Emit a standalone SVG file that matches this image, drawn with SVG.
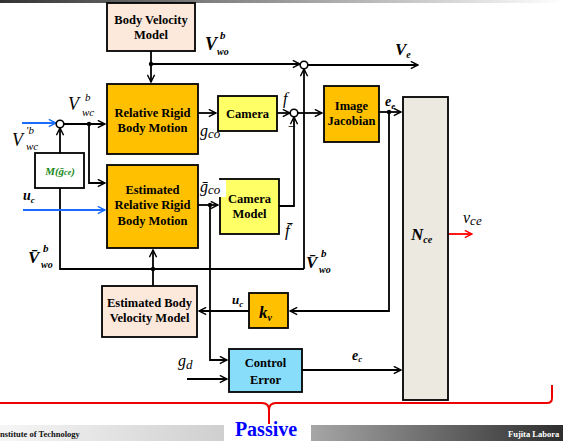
<svg xmlns="http://www.w3.org/2000/svg" width="563" height="442" viewBox="0 0 563 442">
<defs>
<linearGradient id="gTop" x1="0" y1="0" x2="1" y2="0"><stop offset="0" stop-color="#333"/><stop offset="1" stop-color="#fff"/></linearGradient>
<linearGradient id="gL" x1="0" y1="0" x2="1" y2="0"><stop offset="0" stop-color="#f6f6f6"/><stop offset="1" stop-color="#cfcfcf"/></linearGradient>
<linearGradient id="gR" x1="0" y1="0" x2="1" y2="0"><stop offset="0" stop-color="#a6a6a6"/><stop offset="1" stop-color="#2e2e2e"/></linearGradient>
<marker id="a" viewBox="0 0 10 10" refX="9" refY="5" markerWidth="9" markerHeight="9" orient="auto" markerUnits="userSpaceOnUse"><path d="M1,1 L9,5 L1,9" fill="none" stroke="#000" stroke-width="1.6"/></marker>
<marker id="ab" viewBox="0 0 10 10" refX="9" refY="5" markerWidth="9" markerHeight="9" orient="auto" markerUnits="userSpaceOnUse"><path d="M1,1 L9,5 L1,9" fill="none" stroke="#1a6cff" stroke-width="1.6"/></marker>
<marker id="ar" viewBox="0 0 10 10" refX="9" refY="5" markerWidth="9" markerHeight="9" orient="auto" markerUnits="userSpaceOnUse"><path d="M1,1 L9,5 L1,9" fill="none" stroke="#f00" stroke-width="1.6"/></marker>
<style>
.box{stroke:#000;stroke-width:1.8}
.peach{fill:#fde9dc}.orange{fill:#ffc000}.yellow{fill:#ffff66}.cyan{fill:#88ddfb}.grey{fill:#ebe9e0}.white{fill:#fff}
.bt{font-family:"Liberation Serif",serif;font-weight:bold;font-size:12.5px;text-anchor:middle;fill:#000}
.ln{fill:none;stroke:#000;stroke-width:1.8}
.arr{marker-end:url(#a)}
.m{font-family:"Liberation Serif",serif;font-style:italic;fill:#000}
.mb{font-family:"Liberation Serif",serif;font-style:italic;font-weight:bold;fill:#000}
.dot{fill:#000}
.sum{fill:#fff;stroke:#000;stroke-width:1.6}
</style>
</defs>
<rect x="0" y="0" width="563" height="3" fill="url(#gTop)"/>

<g id="connectors">
<path class="ln arr" d="M151,51 V82"/>
<path class="ln arr" d="M151,64 H300"/>
<path class="ln arr" d="M308,65 H418"/>
<path class="ln arr" d="M64,124 H105"/>
<path class="ln arr" d="M89,124 V183 H105"/>
<path class="ln arr" d="M60,153 V128"/>
<path class="ln" d="M60,188 V269 H304"/>
<path class="ln arr" d="M304,269 V69"/>
<path class="ln arr" d="M153,286 V250"/>
<path class="ln arr" d="M198,113 H216"/>
<path class="ln arr" d="M277,113 H290"/>
<path class="ln arr" d="M298,113 H322"/>
<path class="ln arr" d="M198,205 H218"/>
<path class="ln arr" d="M279,206 H294 V117"/>
<path class="ln arr" d="M379,112 H401"/>
<path class="ln arr" d="M389,112 V311 H290"/>
<path class="ln arr" d="M249,311 H199"/>
<path class="ln arr" d="M210,205 V360 H227"/>
<path class="ln arr" d="M187,379 H227"/>
<path class="ln arr" d="M302,370 H401"/>
<path d="M22,123 H56" fill="none" stroke="#1a6cff" stroke-width="1.8" marker-end="url(#ab)"/>
<path d="M23,210 H105" fill="none" stroke="#1a6cff" stroke-width="1.8" marker-end="url(#ab)"/>
<path d="M448,234 H472" fill="none" stroke="#f00" stroke-width="1.8" marker-end="url(#ar)"/>
<circle class="dot" cx="151" cy="64" r="2.2"/>
<circle class="dot" cx="89" cy="124" r="2.2"/>
<circle class="dot" cx="153" cy="269" r="2.2"/>
<circle class="dot" cx="210" cy="205" r="2.2"/>
<circle class="dot" cx="389" cy="112" r="2.2"/>
<circle class="sum" cx="304" cy="65" r="3.8"/>
<circle class="sum" cx="60" cy="124" r="3.8"/>
<circle class="sum" cx="294" cy="113" r="3.8"/>
<text x="292" y="131" font-family="Liberation Serif,serif" font-size="14" text-anchor="middle">−</text>
</g>

<g id="body-velocity-model">
<rect class="box peach" x="107" y="3" width="88" height="48"/>
<text class="bt" x="151" y="24">Body Velocity</text>
<text class="bt" x="151" y="39">Model</text>
</g>
<g id="relative-rigid-body-motion">
<rect class="box orange" x="107" y="84" width="91" height="70"/>
<text class="bt" x="152.5" y="117">Relative Rigid</text>
<text class="bt" x="152.5" y="132">Body Motion</text>
</g>
<g id="m-block">
<rect class="box white" x="35" y="153" width="49" height="35"/>
<text x="60" y="175" font-family="Liberation Serif,serif" font-style="italic" font-weight="bold" font-size="11" fill="#1a8a1a" text-anchor="middle">M(ḡ<tspan font-size="8">ce</tspan>)</text>
</g>
<g id="estimated-relative-rigid-body-motion">
<rect class="box orange" x="107" y="165" width="91" height="83"/>
<text class="bt" x="152.5" y="194">Estimated</text>
<text class="bt" x="152.5" y="209">Relative Rigid</text>
<text class="bt" x="152.5" y="225">Body Motion</text>
</g>
<g id="camera">
<rect class="box yellow" x="218" y="96" width="59" height="35"/>
<text class="bt" x="247.5" y="118">Camera</text>
</g>
<g id="camera-model">
<rect class="box yellow" x="220" y="179" width="59" height="55"/>
<text class="bt" x="249.5" y="203">Camera</text>
<text class="bt" x="249.5" y="218">Model</text>
</g>
<g id="image-jacobian">
<rect class="box orange" x="324" y="86" width="55" height="56"/>
<text class="bt" x="351.5" y="110">Image</text>
<text class="bt" x="351.5" y="125">Jacobian</text>
</g>
<g id="n-ce">
<rect class="box grey" x="403" y="97" width="45" height="303"/>
<text class="mb" x="411" y="240" font-size="17">N<tspan font-size="10" dy="3">ce</tspan></text>
</g>
<g id="k-v">
<rect class="box orange" x="249" y="293" width="39" height="35"/>
<text class="mb" x="259" y="318" font-size="17">k<tspan font-size="10" dy="3">v</tspan></text>
</g>
<g id="estimated-body-velocity-model">
<rect class="box peach" x="102" y="286" width="95" height="51"/>
<text class="bt" x="149.5" y="307">Estimated Body</text>
<text class="bt" x="149.5" y="322">Velocity Model</text>
</g>
<g id="control-error">
<rect class="box cyan" x="229" y="349" width="73" height="43"/>
<text class="bt" x="265.5" y="367">Control</text>
<text class="bt" x="265.5" y="384">Error</text>
</g>

<g id="labels">
<text class="mb" x="205" y="50" font-size="18">V</text>
<text class="mb" x="220" y="39" font-size="11">b</text>
<text class="mb" x="217" y="55" font-size="10">wo</text>
<text class="mb" x="395" y="55" font-size="17">V<tspan font-size="10" dy="3">e</tspan></text>
<text class="m" x="68" y="110" font-size="18">V</text>
<text class="m" x="85" y="101" font-size="11">b</text>
<text class="m" x="82" y="116" font-size="11">wc</text>
<text class="m" x="12" y="146" font-size="18" fill="#1a3cff">V</text>
<text class="m" x="26" y="134" font-size="11" fill="#1a3cff">′b</text>
<text class="m" x="26" y="150" font-size="11" fill="#1a3cff">wc</text>
<text class="mb" x="23" y="200" font-size="14" fill="#1a3cff">u<tspan font-size="9" dy="3">c</tspan></text>
<text class="m" x="200" y="136" font-size="16">g<tspan font-size="13" dy="2">co</tspan></text>
<rect x="199" y="180" width="27" height="17" fill="#fff"/>
<text class="m" x="200" y="192" font-size="16">ḡ<tspan font-size="13" dy="2">co</tspan></text>
<text class="m" x="283" y="104" font-size="16">f</text>
<text class="m" x="285" y="236" font-size="17">f̄</text>
<text class="mb" x="28" y="263" font-size="17">V̄</text>
<text class="mb" x="43" y="252" font-size="11">b</text>
<text class="mb" x="41" y="268" font-size="10">wo</text>
<text class="mb" x="306" y="268" font-size="17">V̄</text>
<text class="mb" x="321" y="257" font-size="11">b</text>
<text class="mb" x="319" y="273" font-size="10">wo</text>
<text class="mb" x="385" y="106" font-size="14">e<tspan font-size="9" dy="3">e</tspan></text>
<text class="mb" x="352" y="360" font-size="14">e<tspan font-size="9" dy="2">c</tspan></text>
<text class="mb" x="232" y="304" font-size="13">u<tspan font-size="9" dy="3">c</tspan></text>
<text class="m" x="178" y="366" font-size="16">g<tspan font-size="13" dy="3">d</tspan></text>
<text class="m" x="463" y="223" font-size="16" fill="#f00">ν<tspan font-size="13" dy="2">ce</tspan></text>
</g>

<path d="M0,403 H262 Q269,403 269,410 V424 M269,410 Q269,403 276,403 H547 Q552,403 552,398 V385" fill="none" stroke="#e00" stroke-width="2"/>
<rect x="0" y="425" width="224" height="16" fill="url(#gL)"/>
<rect x="311" y="425" width="252" height="16" fill="url(#gR)"/>
<text x="0" y="437" font-family="Liberation Serif,serif" font-weight="bold" font-size="8.5" fill="#111">nstitute of Technology</text>
<text x="508" y="437" font-family="Liberation Serif,serif" font-weight="bold" font-size="8.5" fill="#fff">Fujita Labora</text>
<text x="266" y="436" font-family="Liberation Serif,serif" font-weight="bold" font-size="20" fill="#0000ff" text-anchor="middle">Passive</text>
</svg>
